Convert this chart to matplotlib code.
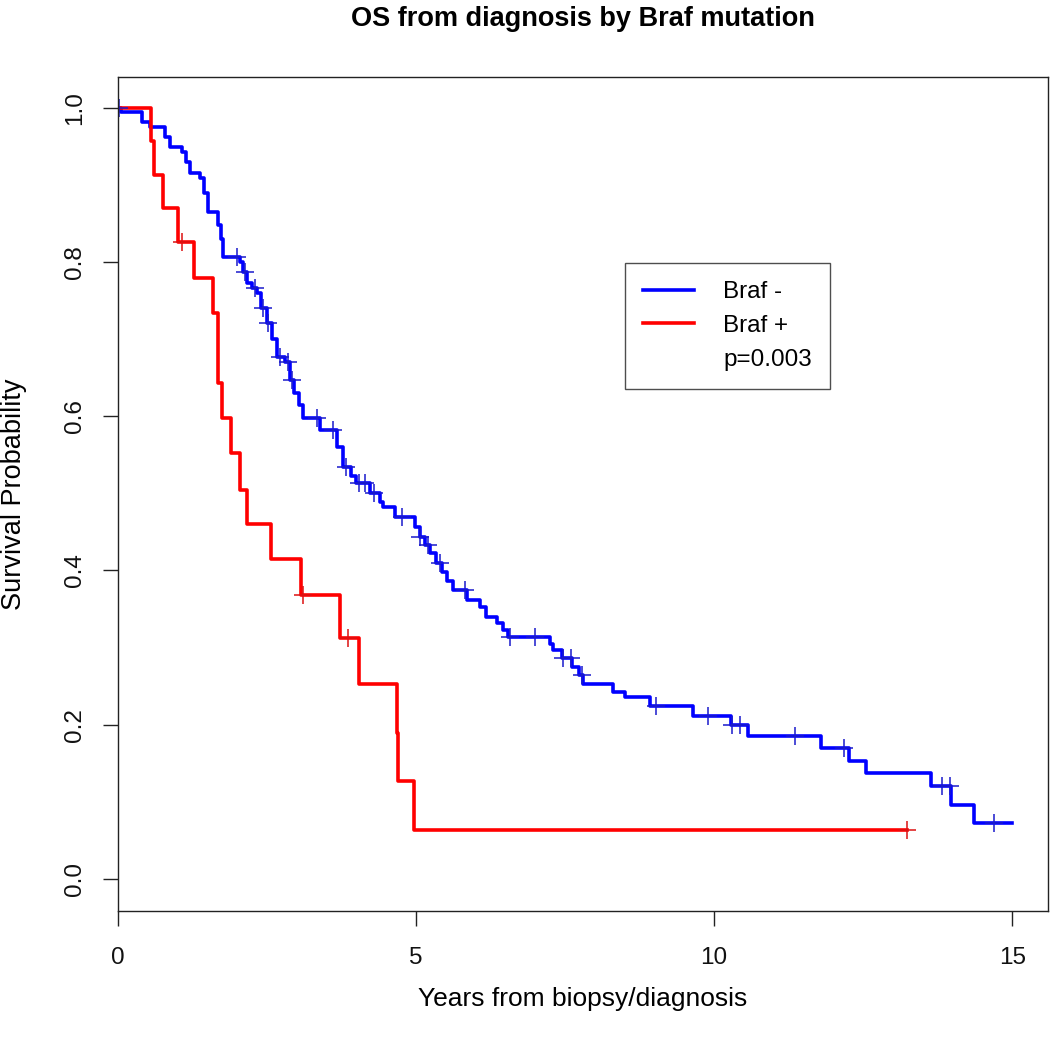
import numpy as np
import matplotlib
matplotlib.use("Agg")
import matplotlib.pyplot as plt
from matplotlib.lines import Line2D

plt.rcParams['font.family'] = ['Liberation Sans', 'DejaVu Sans']

# Kaplan-Meier curve, Braf - (time of step, survival after step)
neg_time = [0.0, 0.05, 0.40, 0.54, 0.79, 0.87, 1.07, 1.14, 1.21, 1.37, 1.45, 1.51,
            1.68, 1.72, 1.76, 2.04, 2.10, 2.16, 2.25, 2.33, 2.40, 2.50, 2.58, 2.66,
            2.80, 2.88, 2.96, 3.03, 3.10, 3.38, 3.67, 3.77, 3.90, 4.00, 4.22, 4.39,
            4.44, 4.64, 4.98, 5.06, 5.15, 5.23, 5.33, 5.43, 5.52, 5.62, 5.85, 6.07,
            6.18, 6.35, 6.45, 6.54, 7.24, 7.29, 7.44, 7.61, 7.74, 7.80, 8.30, 8.50,
            8.92, 9.64, 10.29, 10.56, 11.80, 12.27, 12.54, 13.63, 13.97, 14.36, 15.0]
neg_surv = [1.000, 0.995, 0.982, 0.975, 0.962, 0.949, 0.943, 0.930, 0.916, 0.909, 0.890, 0.865,
            0.848, 0.830, 0.807, 0.800, 0.787, 0.773, 0.766, 0.760, 0.740, 0.721, 0.700, 0.677,
            0.670, 0.647, 0.630, 0.615, 0.598, 0.582, 0.560, 0.534, 0.522, 0.514, 0.500, 0.489,
            0.482, 0.470, 0.457, 0.444, 0.433, 0.423, 0.410, 0.398, 0.386, 0.375, 0.362, 0.353,
            0.340, 0.332, 0.323, 0.314, 0.305, 0.297, 0.287, 0.275, 0.265, 0.253, 0.243, 0.236,
            0.224, 0.211, 0.200, 0.185, 0.170, 0.153, 0.137, 0.121, 0.096, 0.072, 0.072]
neg_censor = [0.02, 1.99, 2.13, 2.30, 2.43, 2.51, 2.71, 2.85, 2.92, 3.33, 3.61, 3.83,
              4.05, 4.15, 4.30, 4.76, 5.06, 5.20, 5.40, 5.82, 6.57, 6.99, 7.46, 7.60,
              7.78, 9.03, 9.90, 10.30, 10.44, 11.35, 12.18, 13.83, 13.96, 14.70]

# Braf +
pos_time = [0.0, 0.55, 0.60, 0.76, 1.00, 1.27, 1.585, 1.68, 1.75, 1.89, 2.04, 2.16,
            2.56, 3.07, 3.72, 4.04, 4.68, 4.70, 4.96, 13.24]
pos_surv = [1.000, 0.957, 0.913, 0.870, 0.826, 0.779, 0.734, 0.643, 0.598, 0.552, 0.505, 0.460,
            0.415, 0.368, 0.313, 0.253, 0.189, 0.127, 0.064, 0.064]
pos_censor = [1.07, 3.10, 3.85, 13.24]


def surv_at(t, times, surv):
    idx = np.searchsorted(times, t, side='right') - 1
    return np.array(surv)[idx]


fig = plt.figure(figsize=(10.5, 10.43), dpi=100)
ax = fig.add_axes([0.1124, 0.1266, 0.8857, 0.7996])

ax.step(neg_time, neg_surv, where='post', color='#0000ff', lw=2.6, label='Braf -')
ax.step(pos_time, pos_surv, where='post', color='#ff0000', lw=2.6, label='Braf +')
ax.plot(neg_censor, surv_at(neg_censor, neg_time, neg_surv), '+', color='#1a1acc',
        ms=13, mew=1.1)
ax.plot(pos_censor, surv_at(pos_censor, pos_time, pos_surv), '+', color='#dd1111',
        ms=13, mew=1.1)

ax.set_xlim(0, 15.6)
ax.set_ylim(-0.0415, 1.04)
ax.set_xticks([0, 5, 10, 15])
ax.set_yticks([0.0, 0.2, 0.4, 0.6, 0.8, 1.0])
ax.set_yticklabels(['0.0', '0.2', '0.4', '0.6', '0.8', '1.0'], rotation=90, va='center')
ax.tick_params(direction='out', length=11, width=1, labelsize=17.5, color='#222222',
               labelcolor='#111111')
ax.tick_params(axis='x', pad=15)
ax.tick_params(axis='y', pad=12)
for s in ax.spines.values():
    s.set_color('#222222')
    s.set_linewidth(1)

ax.set_title('OS from diagnosis by Braf mutation', fontsize=19.5, fontweight='bold', pad=37)
ax.set_xlabel('Years from biopsy/diagnosis', fontsize=19, labelpad=13)
ax.set_ylabel('Survival Probability', fontsize=19.5, labelpad=27)

handles = [Line2D([], [], color='#0000ff', lw=2.6),
           Line2D([], [], color='#ff0000', lw=2.6),
           Line2D([], [], color='none')]
leg = ax.legend(handles, ['Braf -', 'Braf +', 'p=0.003'], loc='upper left',
                bbox_to_anchor=(0.545, 0.777), borderaxespad=0, fontsize=17.5,
                frameon=True, fancybox=False, edgecolor='#222222',
                handlelength=2.1, handletextpad=1.2, labelspacing=0.48,
                borderpad=0.75)
leg.get_frame().set_linewidth(1)

fig.savefig('out.png', dpi=100)
